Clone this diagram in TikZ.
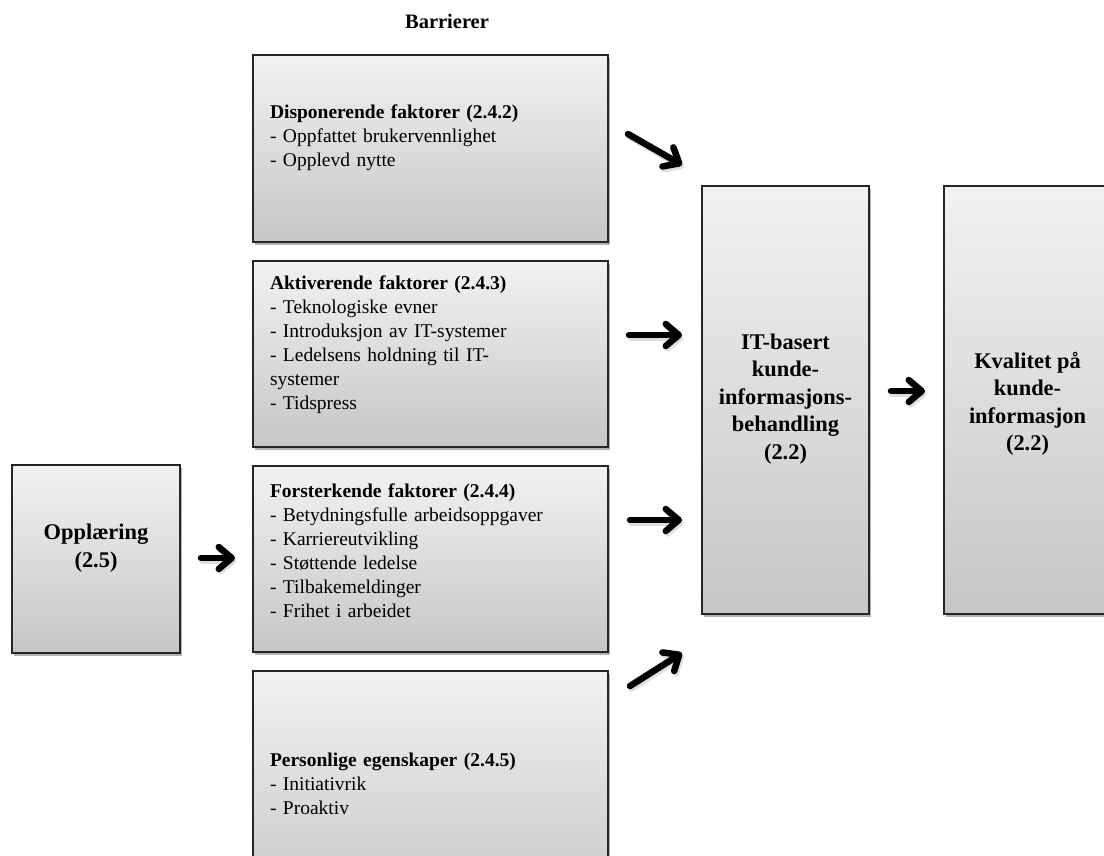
\documentclass[tikz,border=0pt]{standalone}
\usepackage{fontspec}
\setmainfont{Liberation Serif}
\usetikzlibrary{arrows.meta,shadows,calc}
\definecolor{boxtop}{RGB}{242,242,242}
\definecolor{boxbot}{RGB}{198,198,198}
\tikzset{
  box/.style={draw=black!85, line width=1.3pt, top color=boxtop, bottom color=boxbot,
    drop shadow={shadow xshift=2pt, shadow yshift=-3pt, opacity=0.3, fill=black}, inner sep=0pt},
  listtxt/.style={align=left, text width=321pt, inner sep=0pt, font=\fontsize{19.5}{24}\selectfont},
  headtxt/.style={align=center, inner sep=0pt, font=\fontsize{22.4}{27.5}\selectfont\bfseries},
  bigarrow/.style={line width=6.5pt, line cap=round, -{Straight Barb[length=13pt, width=22pt, round]}},
}
\begin{document}
\begin{tikzpicture}[x=1pt, y=-1pt]
\useasboundingbox (0,0) rectangle (1104,855);
\clip (0,0) rectangle (1104,855);
\fill[white] (0,0) rectangle (1104,855);

\node[font=\fontsize{20.5}{24}\selectfont\bfseries] (title) at (447,21) {Barrierer};

% boxes
\node[box, minimum width=355pt, minimum height=187pt] (b1) at (430.5,148.5) {};
\node[box, minimum width=355pt, minimum height=186pt] (b2) at (430.5,354) {};
\node[box, minimum width=355pt, minimum height=186pt] (b3) at (430.5,559) {};
\node[box, minimum width=355pt, minimum height=240pt] (b4) at (430.5,791) {};
\node[box, minimum width=168pt, minimum height=188pt] (opp) at (96,559) {};
\node[box, minimum width=167pt, minimum height=428pt] (it) at (785.5,400) {};
\node[box, minimum width=167pt, minimum height=428pt] (kv) at (1027.5,400) {};

% texts
\node[listtxt] (t1) at ($(b1.center)+(0,-11)$) {\textbf{Disponerende faktorer (2.4.2)}\\- Oppfattet brukervennlighet\\- Opplevd nytte};
\node[listtxt] (t2) at ($(b2.center)+(0,-9)$) {\textbf{Aktiverende faktorer (2.4.3)}\\- Teknologiske evner\\- Introduksjon av IT-systemer\\- Ledelsens holdning til IT-\\systemer\\- Tidspress};
\node[listtxt] (t3) at ($(b3.center)+(0,-8)$) {\textbf{Forsterkende faktorer (2.4.4)}\\- Betydningsfulle arbeidsoppgaver\\- Karriereutvikling\\- Støttende ledelse\\- Tilbakemeldinger\\- Frihet i arbeidet};
\node[listtxt] (t4) at ($(b4.center)+(0,-7)$) {\textbf{Personlige egenskaper (2.4.5)}\\- Initiativrik\\- Proaktiv};
\node[headtxt] (topp) at ($(opp.center)+(0,-11)$) {Opplæring\\(2.5)};
\node[headtxt] (tit) at ($(it.center)+(0,-1)$) {IT-basert\\kunde-\\informasjons-\\behandling\\(2.2)};
\node[headtxt] (tkv) at ($(kv.center)+(0,4)$) {Kvalitet på\\kunde-\\informasjon\\(2.2)};

% arrow end points
\coordinate (a1s) at (628,134);
\coordinate (a1e) at (682,165);
\coordinate (a2s) at (629,335);
\coordinate (a2e) at (682,335);
\coordinate (a3s) at (630,520);
\coordinate (a3e) at (682,520);
\coordinate (a4s) at (630,686);
\coordinate (a4e) at (682,653);
\coordinate (a5s) at (201,558);
\coordinate (a5e) at (235,558);
\coordinate (a6s) at (891,391);
\coordinate (a6e) at (925,391);

\foreach \s/\e in {a1s/a1e,a2s/a2e,a3s/a3e,a4s/a4e,a5s/a5e,a6s/a6e}{
  \draw[black!25, bigarrow, opacity=0.5] ($(\s)+(1.5,2.5)$) -- ($(\e)+(1.5,2.5)$);
  \draw[bigarrow] (\s) -- (\e);
}
\end{tikzpicture}
\end{document}
